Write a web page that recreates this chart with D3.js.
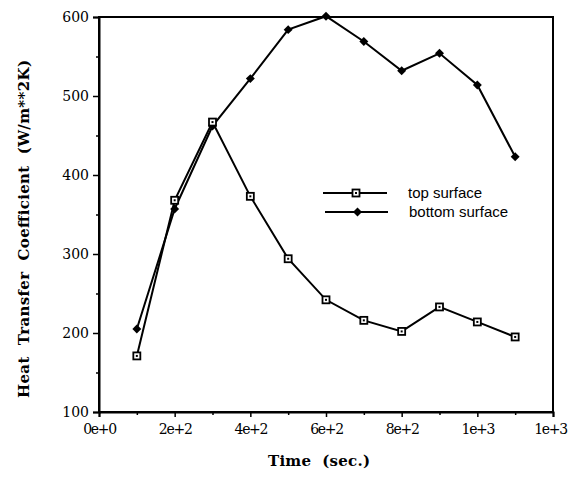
<!DOCTYPE html>
<html>
<head>
<meta charset="utf-8">
<script src="https://cdn.jsdelivr.net/npm/d3@7"></script>
<style>
  body { margin: 0; background: #fff; }
  svg { display: block; }
</style>
</head>
<body>
<script>
const times = [100, 200, 300, 400, 500, 600, 700, 800, 900, 1000, 1100];
const topSurface = [171, 368, 467, 373, 294, 242, 216, 202, 233, 214, 195];
const bottomSurface = [205, 357, 462, 522, 584, 601, 569, 532, 554, 514, 423];
const xTicks = [0, 200, 400, 600, 800, 1000, 1200];
const xTickLabels = ["0e+0", "2e+2", "4e+2", "6e+2", "8e+2", "1e+3", "1e+3"];
const yTicks = [100, 200, 300, 400, 500, 600];

const width = 569, height = 477;
const margin = {left: 99, right: 16, top: 17, bottom: 65};

const svg = d3.select("body")
    .append("svg")
    .attr("width", width)
    .attr("height", height);

const x = d3.scaleLinear().domain([0, 1200]).range([margin.left, width - margin.right]);
const y = d3.scaleLinear().domain([100, 600]).range([height - margin.bottom, margin.top]);

// frame
svg.append("rect")
    .attr("x", x(0)).attr("y", y(600))
    .attr("width", x(1200) - x(0)).attr("height", y(100) - y(600))
    .attr("fill", "none").attr("stroke", "#000").attr("stroke-width", 2);

// x axis
const xAxis = svg.append("g")
    .attr("transform", `translate(0,${y(100)})`)
    .call(d3.axisBottom(x).tickValues(xTicks).tickFormat((d, i) => xTickLabels[i]).tickSize(5).tickPadding(7));
svg.append("g")
    .attr("transform", `translate(0,${y(100)})`)
    .call(d3.axisBottom(x).tickValues(d3.range(100, 1200, 200)).tickFormat("").tickSize(3))
    .select(".domain").remove();

// y axis
const yAxis = svg.append("g")
    .attr("transform", `translate(${x(0)},0)`)
    .call(d3.axisLeft(y).tickValues(yTicks).tickSize(6).tickPadding(4));
svg.append("g")
    .attr("transform", `translate(${x(0)},0)`)
    .call(d3.axisLeft(y).tickValues(d3.range(150, 600, 100)).tickFormat("").tickSize(3))
    .select(".domain").remove();

svg.selectAll(".domain").attr("stroke-width", 2);
svg.selectAll(".tick line").attr("stroke-width", 1.5);
svg.selectAll(".tick text")
    .attr("font-family", "'DejaVu Serif', serif")
    .attr("font-size", 14)
    .attr("fill", "#000");
xAxis.selectAll(".tick text").attr("letter-spacing", -1.3);
// last label sits at the window edge, nudge it in a little
xAxis.selectAll(".tick text").filter(d => d === 1200).attr("dx", -3);

// axis titles
svg.append("text")
    .attr("x", 268).attr("y", 466)
    .attr("font-family", "'DejaVu Serif', serif")
    .attr("font-weight", "bold")
    .attr("font-size", 15)
    .attr("textLength", 102)
    .attr("lengthAdjust", "spacing")
    .attr("xml:space", "preserve")
    .text("Time  (sec.)");

svg.append("text")
    .attr("transform", `translate(29,398) rotate(-90)`)
    .attr("font-family", "'DejaVu Serif', serif")
    .attr("font-weight", "bold")
    .attr("font-size", 15)
    .attr("textLength", 338)
    .attr("lengthAdjust", "spacing")
    .attr("xml:space", "preserve")
    .text("Heat  Transfer  Coefficient  (W/m**2K)");

const line = d3.line().x(d => x(d[0])).y(d => y(d[1]));
const topData = times.map((t, i) => [t, topSurface[i]]);
const bottomData = times.map((t, i) => [t, bottomSurface[i]]);

function drawSeries(data, kind) {
    svg.append("path")
        .datum(data)
        .attr("d", line)
        .attr("fill", "none")
        .attr("stroke", "#000")
        .attr("stroke-width", 2);
    drawMarkers(data.map(d => [x(d[0]), y(d[1])]), kind);
}

function drawMarkers(points, kind) {
    if (kind === "square") {
        svg.append("g").selectAll("rect")
            .data(points)
            .join("rect")
            .attr("x", d => d[0] - 3.5).attr("y", d => d[1] - 3.5)
            .attr("width", 7).attr("height", 7)
            .attr("fill", "#fff").attr("stroke", "#000").attr("stroke-width", 1.8);
        svg.append("g").selectAll("rect")
            .data(points)
            .join("rect")
            .attr("x", d => d[0] - 1).attr("y", d => d[1] - 1)
            .attr("width", 2).attr("height", 2)
            .attr("fill", "#000");
    } else {
        svg.append("g").selectAll("path")
            .data(points)
            .join("path")
            .attr("transform", d => `translate(${d[0]},${d[1]}) rotate(45)`)
            .attr("d", d3.symbol(d3.symbolSquare, 40))
            .attr("fill", "#000");
    }
}

drawSeries(bottomData, "diamond");
drawSeries(topData, "square");

// legend
const legend = [
    {label: "top surface", kind: "square", y: 193, x1: 323, x2: 387, tx: 408},
    {label: "bottom surface", kind: "diamond", y: 212, x1: 325, x2: 388, tx: 409}
];
legend.forEach(l => {
    svg.append("line")
        .attr("x1", l.x1).attr("x2", l.x2)
        .attr("y1", l.y).attr("y2", l.y)
        .attr("stroke", "#000").attr("stroke-width", 2);
    drawMarkers([[(l.x1 + l.x2) / 2 + 1, l.y]], l.kind);
    svg.append("text")
        .attr("x", l.tx).attr("y", l.y + 5)
        .attr("font-family", "'Liberation Sans', Arial, sans-serif")
        .attr("font-size", 15)
        .text(l.label);
});
</script>
</body>
</html>
